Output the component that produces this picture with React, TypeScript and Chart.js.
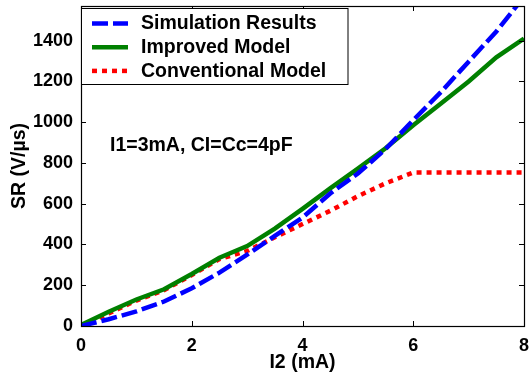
import React, { useEffect, useRef } from "react";
import { Chart, registerables } from "chart.js";

Chart.register(...registerables);

const FONT = '"Liberation Sans", Arial, Helvetica, sans-serif';

// ---- data ----
const xValues = [0, 0.5, 1, 1.5, 2, 2.5, 3, 3.5, 4, 4.5, 5, 5.5, 6, 6.5, 7, 7.5, 8];
const simulationResults = [0, 33, 72, 120, 185, 262, 350, 442, 532, 650, 748, 868, 1010, 1148, 1297, 1445, 1615];
const improvedModel = [5, 70, 130, 180, 255, 335, 392, 478, 575, 675, 772, 872, 985, 1092, 1200, 1318, 1410];
const conventionalModel = [0, 62, 125, 176, 250, 328, 368, 435, 500, 565, 637, 700, 753, 753, 753, 753, 753];

const seriesLabels = ["Simulation Results", "Improved Model", "Conventional Model"];
const xTickValues = [0, 2, 4, 6, 8];
const yTickValues = [0, 200, 400, 600, 800, 1000, 1200, 1400];
const xTitle = "I2 (mA)";
const yTitle = "SR (V/\u00B5s)";
const annotationText = "I1=3mA, CI=Cc=4pF";

const matlabPlugin = {
  id: "matlabFrame",
  afterDatasetsDraw(chart: any) {
    const { ctx, chartArea } = chart;
    const { left, right, top, bottom } = chartArea;
    const xs = chart.scales.x;
    const ys = chart.scales.y;
    ctx.save();
    ctx.strokeStyle = "#000";
    ctx.lineWidth = 1;
    ctx.setLineDash([]);
    ctx.beginPath();
    const tl = 5;
    xTickValues.forEach((v) => {
      const px = Math.round(xs.getPixelForValue(v)) + 0.5;
      ctx.moveTo(px, bottom);
      ctx.lineTo(px, bottom - tl);
      ctx.moveTo(px, top);
      ctx.lineTo(px, top + tl);
    });
    yTickValues.forEach((v) => {
      const py = Math.round(ys.getPixelForValue(v)) + 0.5;
      ctx.moveTo(left, py);
      ctx.lineTo(left + tl, py);
      ctx.moveTo(right, py);
      ctx.lineTo(right - tl, py);
    });
    ctx.stroke();
    ctx.lineWidth = 1.2;
    ctx.strokeRect(Math.round(left) + 0.5, Math.round(top) + 0.5, Math.round(right - left), Math.round(bottom - top));
    ctx.restore();
  },
  afterDraw(chart: any) {
    const { ctx, chartArea } = chart;
    ctx.save();
    // legend box
    const bx = Math.round(chartArea.left) + 0.5;
    const by = 8.5;
    const bw = 348 - bx;
    const bh = 76;
    ctx.fillStyle = "#fff";
    ctx.fillRect(bx, by, bw, bh);
    ctx.strokeStyle = "#000";
    ctx.lineWidth = 1;
    ctx.strokeRect(bx, by, bw, bh);
    ctx.font = `bold 19.5px ${FONT}`;
    ctx.textBaseline = "middle";
    ctx.textAlign = "left";
    chart.data.datasets.forEach((ds: any, i: number) => {
      const y = 23.5 + i * 23.7;
      ctx.beginPath();
      ctx.strokeStyle = ds.borderColor;
      ctx.lineWidth = ds.borderWidth;
      ctx.lineCap = "butt";
      ctx.setLineDash(ds.borderDash || []);
      ctx.moveTo(92, y);
      ctx.lineTo(128, y);
      ctx.stroke();
      ctx.setLineDash([]);
      ctx.fillStyle = "#000";
      ctx.fillText(ds.label, 141, y + 0.5);
    });
    // annotation
    ctx.fillStyle = "#000";
    ctx.fillText(annotationText, 110, 145.5);
    ctx.restore();
  },
};

export default function App() {
  const canvasRef = useRef<HTMLCanvasElement | null>(null);

  useEffect(() => {
    const canvas = canvasRef.current;
    if (!canvas) return;
    const tickFont = { family: FONT, size: 18, weight: "bold" as const };
    const titleFont = { family: FONT, size: 19.5, weight: "bold" as const };
    const chart = new Chart(canvas, {
      type: "line",
      data: {
        labels: xValues,
        datasets: [
          {
            label: seriesLabels[0],
            data: xValues.map((x, i) => ({ x, y: simulationResults[i] })),
            borderColor: "#0000ff",
            borderWidth: 4.5,
            borderDash: [16, 5],
            pointRadius: 0,
            tension: 0,
            fill: false,
            clip: 0,
          },
          {
            label: seriesLabels[1],
            data: xValues.map((x, i) => ({ x, y: improvedModel[i] })),
            borderColor: "#008000",
            borderWidth: 4.5,
            pointRadius: 0,
            tension: 0,
            fill: false,
            clip: 0,
          },
          {
            label: seriesLabels[2],
            data: xValues.map((x, i) => ({ x, y: conventionalModel[i] })),
            borderColor: "#ff0000",
            borderWidth: 4.5,
            borderDash: [5, 5],
            pointRadius: 0,
            tension: 0,
            fill: false,
            clip: 0,
          },
        ],
      },
      options: {
        animation: false,
        responsive: false,
        devicePixelRatio: 1,
        layout: { padding: { top: 6, right: 6, left: 0, bottom: 0 } },
        plugins: {
          legend: { display: false },
          tooltip: { enabled: false },
        },
        scales: {
          x: {
            type: "linear",
            min: 0,
            max: 8,
            afterBuildTicks: (s: any) => {
              s.ticks = xTickValues.map((v) => ({ value: v }));
            },
            afterFit: (s: any) => {
              s.height = 51;
              s.paddingLeft = 0;
              s.paddingRight = 0;
            },
            grid: { display: false, drawTicks: false },
            border: { display: false },
            ticks: {
              font: tickFont,
              color: "#000",
              padding: 9,
              maxRotation: 0,
              autoSkip: false,
              callback: (v: any) => String(v),
            },
            title: {
              display: true,
              text: xTitle,
              font: titleFont,
              color: "#000",
              padding: { top: 0, bottom: 3 },
            },
          },
          y: {
            type: "linear",
            min: 0,
            max: 1570,
            afterBuildTicks: (s: any) => {
              s.ticks = yTickValues.map((v) => ({ value: v }));
            },
            afterFit: (s: any) => {
              s.width = 81;
              s.paddingTop = 0;
              s.paddingBottom = 0;
            },
            grid: { display: false, drawTicks: false },
            border: { display: false },
            ticks: {
              font: tickFont,
              color: "#000",
              padding: 8,
              autoSkip: false,
              callback: (v: any) => String(v),
            },
            title: {
              display: true,
              text: yTitle,
              font: titleFont,
              color: "#000",
              padding: { top: 8, bottom: 0 },
            },
          },
        },
      },
      plugins: [matlabPlugin],
    });
    return () => chart.destroy();
  }, []);

  return (
    <div style={{ position: "fixed", left: 0, top: 0, width: 530, height: 377, background: "#fff" }}>
      <canvas ref={canvasRef} width={530} height={377} style={{ display: "block" }} />
    </div>
  );
}
